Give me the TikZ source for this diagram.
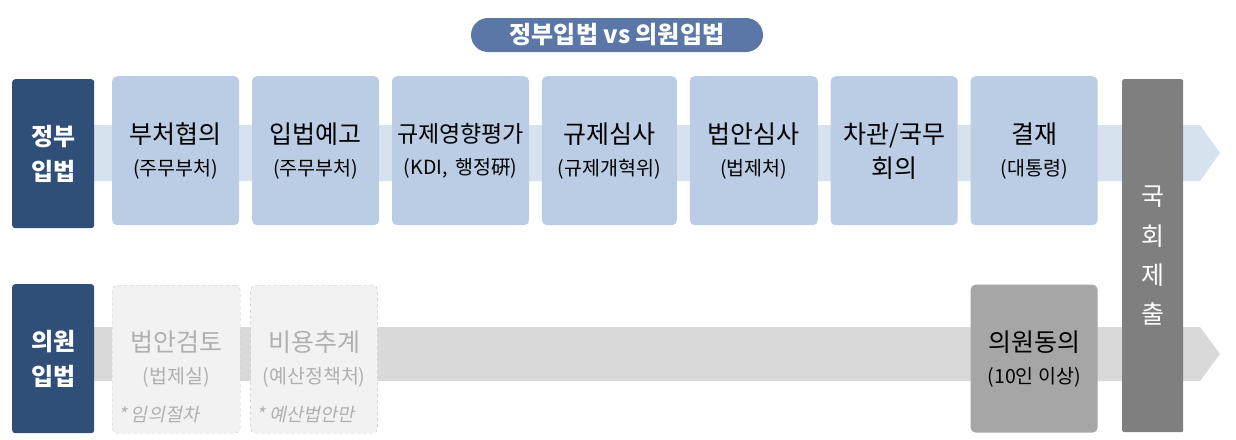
\documentclass[tikz,border=0pt]{standalone}
\usepackage{fontspec}
\setmainfont{Noto Sans CJK KR}
\newfontfamily\notefont[FakeSlant=0.2]{Noto Sans CJK KR}
\usetikzlibrary{positioning}
\definecolor{titleblue}{HTML}{5A77A8}
\definecolor{navy}{HTML}{2F4F78}
\definecolor{stepblue}{HTML}{BACDE4}
\definecolor{bandblue}{HTML}{D7E2EF}
\definecolor{bandgray}{HTML}{D9D9D9}
\definecolor{optfill}{HTML}{F2F2F2}
\definecolor{optline}{HTML}{C6C6C6}
\definecolor{opttext}{HTML}{B0B0B0}
\definecolor{consent}{HTML}{A6A6A6}
\definecolor{submit}{HTML}{7F7F7F}
\newcommand{\subsize}{\fontsize{19.5}{22}\selectfont}

\begin{document}
\begin{tikzpicture}[x=1pt, y=1pt, node distance=12.5pt,
    rowlabel/.style={rectangle, fill=navy, rounded corners=3pt, minimum width=82pt, minimum height=149pt, text=white, align=center, font=\fontsize{24}{35}\bfseries\selectfont},
    stepbox/.style={rectangle, fill=stepblue, rounded corners=5pt, inner xsep=1pt, minimum width=127pt, minimum height=149pt, align=center, font=\fontsize{25}{32}\selectfont},
    optbox/.style={rectangle, draw=optline, dashed, fill=optfill, rounded corners=5pt, minimum width=127pt, minimum height=148pt, text=opttext, align=center, font=\fontsize{25}{32}\selectfont},
    notetext/.style={anchor=west, text=opttext, inner sep=0pt, font=\notefont\fontsize{18.5}{20}\selectfont}]
    \useasboundingbox (0,0) rectangle (1236,-439);

    %Background bands
    \fill[bandblue] (60,-125) -- (1200,-125) -- (1220,-153) -- (1200,-181) -- (60,-181) -- cycle;
    \fill[bandgray] (60,-327) -- (1200,-327) -- (1220,-354) -- (1200,-381) -- (60,-381) -- cycle;

    %Defining nodes
    \node[rectangle, fill=titleblue, rounded corners=17pt, minimum width=292pt, minimum height=34pt, text=white, font=\fontsize{24}{26}\bfseries\selectfont] (Title) at (617,-35) {정부입법 vs 의원입법};

    \node[rowlabel, anchor=north west] (Gov) at (12,-79) {정부\\입법};
    \node[stepbox, anchor=north west] (Consult) at (112,-76) {부처협의\\{\subsize (주무부처)}};
    \node[stepbox, right=of Consult] (Notice) {입법예고\\{\subsize (주무부처)}};
    \node[stepbox, right=of Notice, text width=135pt, font=\fontsize{23}{32}\selectfont] (Impact) {규제영향평가\\{\subsize (KDI, 행정硏)}};
    \node[stepbox, right=of Impact, minimum width=135pt] (RegReview) {규제심사\\{\subsize (규제개혁위)}};
    \node[stepbox, right=of RegReview, minimum width=128pt] (BillReview) {법안심사\\{\subsize (법제처)}};
    \node[stepbox, right=of BillReview, font=\fontsize{25}{34}\selectfont] (Cabinet) {차관/국무\\회의};
    \node[stepbox, right=of Cabinet] (Approve) {결재\\{\subsize (대통령)}};

    \node[rectangle, fill=submit, rounded corners=2pt, minimum width=61pt, minimum height=353pt, anchor=north west, text=white, align=center, font=\fontsize{25}{39.3}\selectfont] (Submit) at (1122,-79) {국\\회\\제\\출};

    \node[rowlabel, anchor=north west] (Member) at (12,-284) {의원\\입법};
    \node[optbox, anchor=north west, minimum width=128pt] (Draft) at (112,-285) {법안검토\\{\subsize (법제실)}};
    \node[optbox, right=10pt of Draft] (Cost) {비용추계\\{\subsize (예산정책처)}};
    \node[notetext] (DraftNote) at ([xshift=6pt, yshift=19pt]Draft.south west) {* 임의절차};
    \node[notetext] (CostNote) at ([xshift=6pt, yshift=19pt]Cost.south west) {* 예산법안만};
    \node[stepbox, fill=consent, below=59pt of Approve, minimum height=148pt] (Consent) {의원동의\\{\subsize (10인 이상)}};
\end{tikzpicture}
\end{document}
